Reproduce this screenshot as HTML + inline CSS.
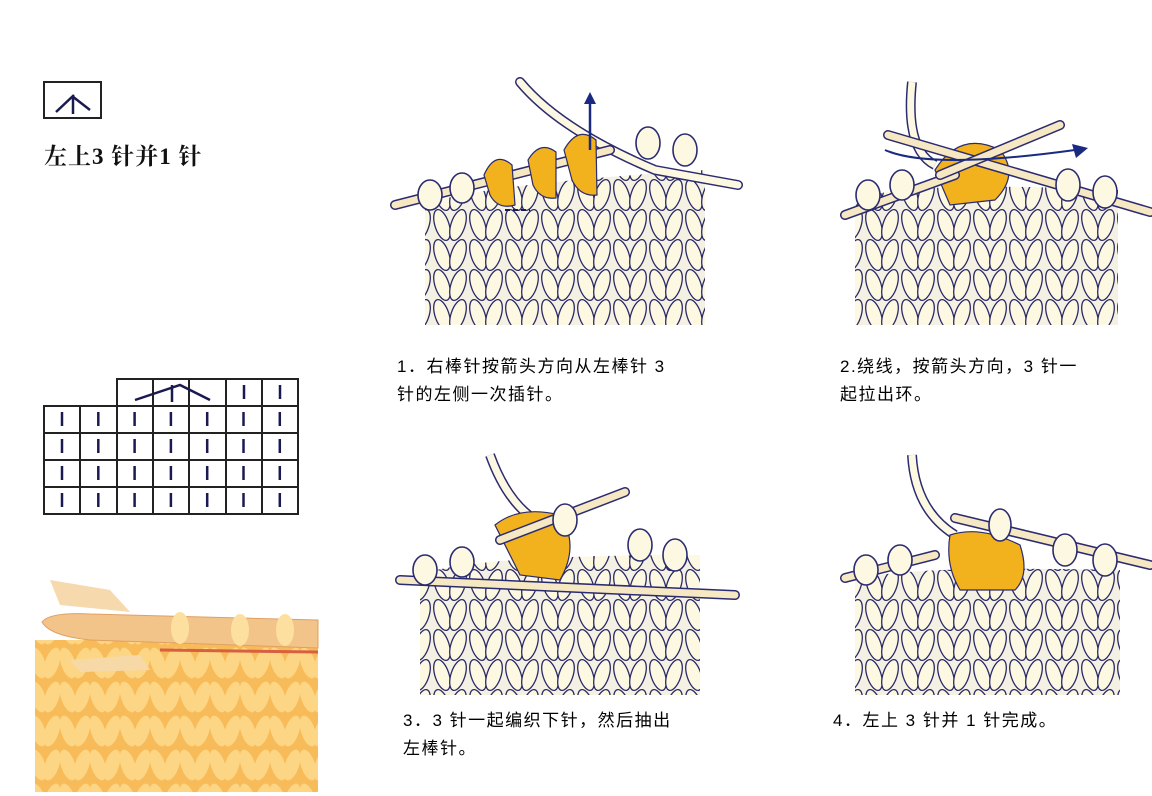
<!DOCTYPE html>
<html><head><meta charset="utf-8">
<style>
html,body{margin:0;padding:0;background:#fff;}
body{width:1152px;height:796px;position:relative;overflow:hidden;font-family:"Liberation Sans","Noto Sans CJK SC",sans-serif;}
.cap{position:absolute;font-size:17px;line-height:28px;color:#000;letter-spacing:1.5px;}
.title{position:absolute;left:44px;top:138px;font-family:"Liberation Serif","Noto Serif CJK SC",serif;font-size:23px;color:#111;font-weight:bold;letter-spacing:1px;}
</style></head><body>
<svg width="1152" height="796" style="position:absolute;left:0;top:0">
<defs>
<g id="st">
<ellipse cx="10" cy="0" rx="7" ry="16" transform="rotate(-18 10 0)" fill="#fdf8e2" stroke="#2a2a66" stroke-width="1.3"/>
<ellipse cx="26" cy="0" rx="7" ry="16" transform="rotate(18 26 0)" fill="#fdf8e2" stroke="#2a2a66" stroke-width="1.3"/>
</g>
<pattern id="knit" width="36" height="30" patternUnits="userSpaceOnUse">
<rect width="36" height="30" fill="#f4f0e4"/>
<use href="#st" y="-15"/><use href="#st" y="15"/><use href="#st" y="45"/>
</pattern>
<pattern id="yk" width="30" height="34" patternUnits="userSpaceOnUse">
<rect width="30" height="34" fill="#f7b24c"/>
<ellipse cx="8" cy="17" rx="7" ry="16" transform="rotate(-18 8 17)" fill="#fdd98a"/>
<ellipse cx="22" cy="17" rx="7" ry="16" transform="rotate(18 22 17)" fill="#fdd98a"/>
</pattern>
</defs>

<rect x="44" y="82" width="57" height="36" fill="none" stroke="#222" stroke-width="2"/>
<path d="M56 112 L74 95 M72 96 L90 110 M73 96 L73 114" stroke="#1a1a50" stroke-width="2.5" fill="none"/>

<g stroke="#222" stroke-width="2" fill="none">
<rect x="44" y="406" width="254" height="108"/>
<rect x="117" y="379" width="181" height="27"/>
<line x1="44" y1="433" x2="298" y2="433"/><line x1="44" y1="460" x2="298" y2="460"/><line x1="44" y1="487" x2="298" y2="487"/>
<line x1="80" y1="406" x2="80" y2="514"/><line x1="117" y1="406" x2="117" y2="514"/>
<line x1="153" y1="379" x2="153" y2="514"/><line x1="189" y1="379" x2="189" y2="514"/><line x1="226" y1="379" x2="226" y2="514"/><line x1="262" y1="379" x2="262" y2="514"/>
</g>
<g stroke="#1a1a50" stroke-width="2.5">
<path d="M135 400 L180 385 L210 400 M172 385 L172 402" fill="none"/>
<line x1="244" y1="385" x2="244" y2="399"/><line x1="280" y1="385" x2="280" y2="399"/>
</g>
<g stroke="#1a1a50" stroke-width="2.5" id="rows"></g>

<rect x="35" y="640" width="283" height="152" fill="url(#yk)"/>
<rect x="35" y="640" width="283" height="152" fill="#fbd07a" opacity="0.3"/>
<path d="M50 580 L110 590 L130 612 L60 605 Z" fill="#f5cf9a" opacity="0.8"/>
<path d="M42 622 Q50 612 90 614 L318 620 L318 648 L90 640 Q50 636 42 622 Z" fill="#f2c48a" stroke="#e0a060" stroke-width="1"/>
<line x1="160" y1="650" x2="318" y2="652" stroke="#d86040" stroke-width="3"/>
<path d="M70 660 L140 655 L150 670 L80 672 Z" fill="#f7d9a8"/>
<ellipse cx="180" cy="628" rx="9" ry="16" fill="#fde0a0"/>
<ellipse cx="240" cy="630" rx="9" ry="16" fill="#fde0a0"/>
<ellipse cx="285" cy="630" rx="9" ry="16" fill="#fde0a0"/>

<!-- panel 1 -->
<path d="M425 205 Q470 185 705 170 L705 325 L425 325 Z" fill="url(#knit)"/>
<path d="M520 82 Q560 130 655 170 L738 185" stroke="#2b2b70" stroke-width="10" fill="none" stroke-linecap="round"/>
<path d="M520 82 Q560 130 655 170 L738 185" stroke="#fdf8e2" stroke-width="7" fill="none" stroke-linecap="round"/>
<path d="M395 205 L610 150" stroke="#2b2b70" stroke-width="10" stroke-linecap="round" fill="none"/>
<path d="M395 205 L610 150" stroke="#f5e8c2" stroke-width="7" stroke-linecap="round" fill="none"/>
<g fill="#f2b21e" stroke="#2b2b70" stroke-width="1.2">
<path d="M484 175 Q495 150 512 165 L515 205 Q498 210 490 195 Z"/>
<path d="M528 160 Q540 140 556 152 L556 198 Q540 200 533 185 Z"/>
<path d="M564 150 Q578 125 596 140 L597 195 Q580 197 572 180 Z"/>
</g>
<path d="M590 150 L590 100" stroke="#1a2a80" stroke-width="2.5" fill="none"/>
<path d="M584 104 L590 92 L596 104 Z" fill="#1a2a80"/>
<path d="M505 210 L530 210" stroke="#1a1a50" stroke-width="2" stroke-dasharray="5 3"/>
<g fill="#fdf8e2" stroke="#2b2b70" stroke-width="1.6">
<ellipse cx="430" cy="195" rx="12" ry="15"/><ellipse cx="462" cy="188" rx="12" ry="15"/>
<ellipse cx="648" cy="143" rx="12" ry="16"/><ellipse cx="685" cy="150" rx="12" ry="16"/>
</g>

<!-- panel 2 -->
<path d="M855 200 Q900 180 1118 190 L1118 325 L855 325 Z" fill="url(#knit)"/>
<path d="M912 82 Q905 150 935 165" stroke="#2b2b70" stroke-width="10" fill="none"/>
<path d="M912 82 Q905 150 935 165" stroke="#fdf8e2" stroke-width="7" fill="none"/>
<path d="M935 170 Q960 130 1000 150 Q1020 175 995 200 L950 205 Z" fill="#f2b21e" stroke="#2b2b70" stroke-width="1.2"/>
<path d="M845 215 L955 175" stroke="#2b2b70" stroke-width="10" stroke-linecap="round" fill="none"/>
<path d="M845 215 L955 175" stroke="#f5e8c2" stroke-width="7" stroke-linecap="round" fill="none"/>
<path d="M888 135 L1150 212" stroke="#2b2b70" stroke-width="10" stroke-linecap="round" fill="none"/>
<path d="M888 135 L1150 212" stroke="#f5e8c2" stroke-width="7" stroke-linecap="round" fill="none"/>
<path d="M940 175 L1060 125" stroke="#2b2b70" stroke-width="10" stroke-linecap="round" fill="none"/>
<path d="M940 175 L1060 125" stroke="#f5e8c2" stroke-width="7" stroke-linecap="round" fill="none"/>
<path d="M885 150 Q930 170 1075 150" stroke="#1a2a80" stroke-width="2" fill="none"/>
<path d="M1072 144 L1088 148 L1076 158 Z" fill="#1a2a80"/>
<g fill="#fdf8e2" stroke="#2b2b70" stroke-width="1.6">
<ellipse cx="868" cy="195" rx="12" ry="15"/><ellipse cx="902" cy="185" rx="12" ry="15"/>
<ellipse cx="1068" cy="185" rx="12" ry="16"/><ellipse cx="1105" cy="192" rx="12" ry="16"/>
</g>

<!-- panel 3 -->
<path d="M420 575 Q470 555 700 555 L700 695 L420 695 Z" fill="url(#knit)"/>
<path d="M490 455 Q510 510 545 525" stroke="#2b2b70" stroke-width="10" fill="none"/>
<path d="M490 455 Q510 510 545 525" stroke="#fdf8e2" stroke-width="7" fill="none"/>
<path d="M495 525 Q520 505 560 515 Q580 545 560 580 L520 575 Z" fill="#f2b21e" stroke="#2b2b70" stroke-width="1.2"/>
<path d="M400 580 L735 595" stroke="#2b2b70" stroke-width="10" stroke-linecap="round" fill="none"/>
<path d="M400 580 L735 595" stroke="#f5e8c2" stroke-width="7" stroke-linecap="round" fill="none"/>
<path d="M500 540 L625 492" stroke="#2b2b70" stroke-width="10" stroke-linecap="round" fill="none"/>
<path d="M500 540 L625 492" stroke="#f5e8c2" stroke-width="7" stroke-linecap="round" fill="none"/>
<g fill="#fdf8e2" stroke="#2b2b70" stroke-width="1.6">
<ellipse cx="425" cy="570" rx="12" ry="15"/><ellipse cx="462" cy="562" rx="12" ry="15"/>
<ellipse cx="565" cy="520" rx="12" ry="16"/><ellipse cx="640" cy="545" rx="12" ry="16"/><ellipse cx="675" cy="555" rx="12" ry="16"/>
</g>

<!-- panel 4 -->
<path d="M855 580 Q900 565 1120 570 L1120 695 L855 695 Z" fill="url(#knit)"/>
<path d="M912 455 Q915 510 955 535" stroke="#2b2b70" stroke-width="10" fill="none"/>
<path d="M912 455 Q915 510 955 535" stroke="#fdf8e2" stroke-width="7" fill="none"/>
<path d="M950 535 Q980 525 1020 545 Q1030 575 1015 590 L960 590 Q945 565 950 535 Z" fill="#f2b21e" stroke="#2b2b70" stroke-width="1.2"/>
<path d="M845 578 L935 555" stroke="#2b2b70" stroke-width="10" stroke-linecap="round" fill="none"/>
<path d="M845 578 L935 555" stroke="#f5e8c2" stroke-width="7" stroke-linecap="round" fill="none"/>
<path d="M955 518 L1150 565" stroke="#2b2b70" stroke-width="10" stroke-linecap="round" fill="none"/>
<path d="M955 518 L1150 565" stroke="#f5e8c2" stroke-width="7" stroke-linecap="round" fill="none"/>
<g fill="#fdf8e2" stroke="#2b2b70" stroke-width="1.6">
<ellipse cx="866" cy="570" rx="12" ry="15"/><ellipse cx="900" cy="560" rx="12" ry="15"/>
<ellipse cx="1000" cy="525" rx="11" ry="16"/><ellipse cx="1065" cy="550" rx="12" ry="16"/><ellipse cx="1105" cy="560" rx="12" ry="16"/>
</g>
</svg>
<script>
var g=document.getElementById('rows'),h='';
for(var r=0;r<4;r++)for(var c=0;c<7;c++){var x=62+c*36.3,y=412+r*27;h+='<line x1="'+x+'" y1="'+y+'" x2="'+x+'" y2="'+(y+14)+'"/>';}
g.innerHTML=h;
</script>
<div class="title">左上3 针并1 针</div>
<div class="cap" style="left:397px;top:353px">1．右棒针按箭头方向从左棒针 3<br>针的左侧一次插针。</div>
<div class="cap" style="left:840px;top:353px">2.绕线，按箭头方向，3 针一<br>起拉出环。</div>
<div class="cap" style="left:403px;top:707px">3．3 针一起编织下针，然后抽出<br>左棒针。</div>
<div class="cap" style="left:833px;top:707px">4．左上 3 针并 1 针完成。</div>
</body></html>
